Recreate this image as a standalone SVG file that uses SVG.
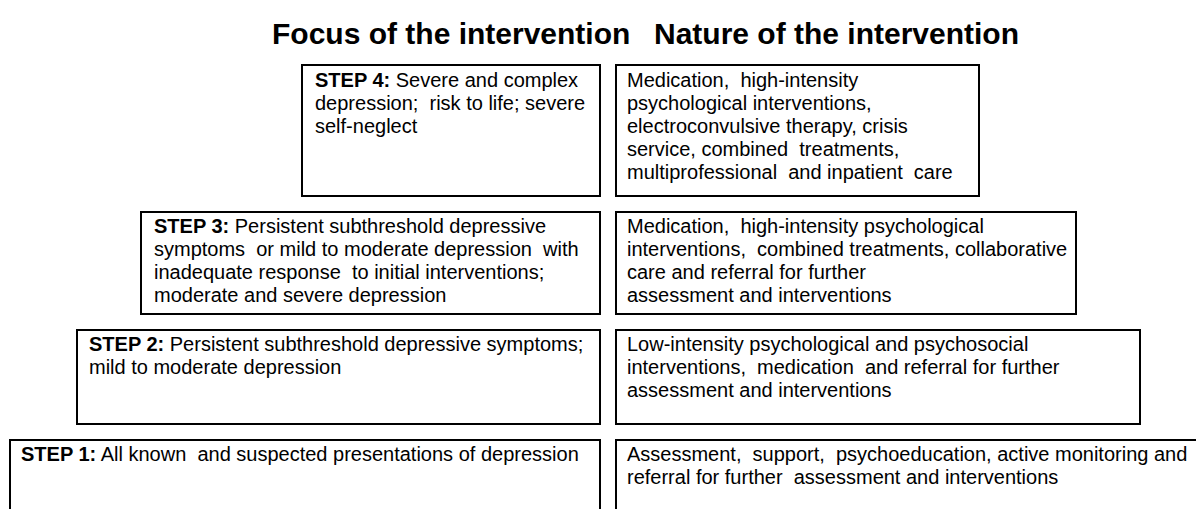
<svg xmlns="http://www.w3.org/2000/svg" width="1196" height="509" viewBox="0 0 1196 509">
<style>
.box{fill:#fff;stroke:#000;stroke-width:2}
.t{font-family:"Liberation Sans",Arial,sans-serif;font-size:20px;fill:#000}
.b{font-weight:bold}
.title{font-family:"Liberation Sans",Arial,sans-serif;font-size:30px;font-weight:bold;fill:#000}
</style>
<rect width="1196" height="509" fill="#fff"/>
<g id="title">
<text class="title" x="272" y="44">Focus of the intervention</text>
<text class="title" x="654" y="44">Nature of the intervention</text>
</g>
<g id="step4-focus">
<rect class="box" x="302" y="65" width="298" height="131"/>
<text class="t" xml:space="preserve"><tspan x="315" y="87"><tspan class="b">STEP 4:</tspan> Severe and complex</tspan><tspan x="315" y="110">depression;  risk to life; severe</tspan><tspan x="315" y="133">self-neglect</tspan></text>
</g>
<g id="step4-nature">
<rect class="box" x="616" y="65" width="363" height="131"/>
<text class="t" xml:space="preserve"><tspan x="627" y="87">Medication,  high-intensity</tspan><tspan x="627" y="110">psychological interventions,</tspan><tspan x="627" y="133">electroconvulsive therapy, crisis</tspan><tspan x="627" y="156">service, combined  treatments,</tspan><tspan x="627" y="179">multiprofessional  and inpatient  care</tspan></text>
</g>
<g id="step3-focus">
<rect class="box" x="141" y="212" width="459" height="102"/>
<text class="t" xml:space="preserve"><tspan x="154" y="233"><tspan class="b">STEP 3:</tspan> Persistent subthreshold depressive</tspan><tspan x="154" y="256">symptoms  or mild to moderate depression  with</tspan><tspan x="154" y="279">inadequate response  to initial interventions;</tspan><tspan x="154" y="302">moderate and severe depression</tspan></text>
</g>
<g id="step3-nature">
<rect class="box" x="616" y="212" width="460" height="102"/>
<text class="t" xml:space="preserve"><tspan x="627" y="233">Medication,  high-intensity psychological</tspan><tspan x="627" y="256">interventions,  combined treatments, collaborative</tspan><tspan x="627" y="279">care and referral for further</tspan><tspan x="627" y="302">assessment and interventions</tspan></text>
</g>
<g id="step2-focus">
<rect class="box" x="77" y="330" width="523" height="94"/>
<text class="t" xml:space="preserve"><tspan x="89" y="351"><tspan class="b">STEP 2:</tspan> Persistent subthreshold depressive symptoms;</tspan><tspan x="89" y="374">mild to moderate depression</tspan></text>
</g>
<g id="step2-nature">
<rect class="box" x="616" y="330" width="524" height="94"/>
<text class="t" xml:space="preserve"><tspan x="627" y="351">Low-intensity psychological and psychosocial</tspan><tspan x="627" y="374">interventions,  medication  and referral for further</tspan><tspan x="627" y="397">assessment and interventions</tspan></text>
</g>
<g id="step1-focus">
<rect class="box" x="10" y="440" width="590" height="90"/>
<text class="t" xml:space="preserve"><tspan x="21" y="461"><tspan class="b">STEP 1:</tspan> All known  and suspected presentations of depression</tspan></text>
</g>
<g id="step1-nature">
<rect class="box" x="616" y="440" width="600" height="90"/>
<text class="t" xml:space="preserve"><tspan x="627" y="461">Assessment,  support,  psychoeducation, active monitoring and</tspan><tspan x="627" y="484">referral for further  assessment and interventions</tspan></text>
</g>
<g id="connectors"/>
</svg>
